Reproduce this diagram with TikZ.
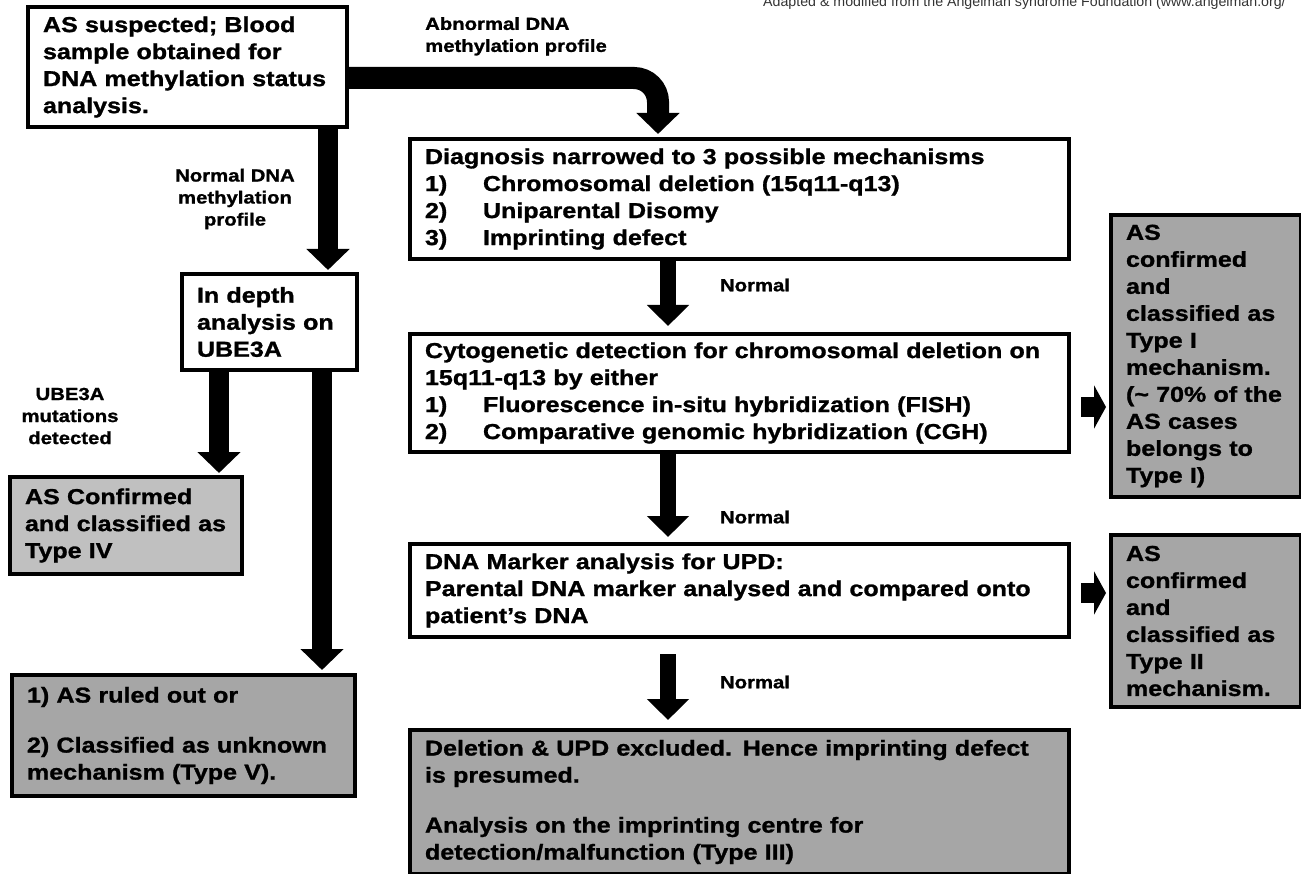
\documentclass[tikz,border=0pt]{standalone}
\usepackage{fontspec}
\usetikzlibrary{arrows.meta,calc}
\newfontfamily\widebf{Liberation Sans}[UprightFont={* Bold}, FakeStretch=1.16, FakeBold=1.2]
\newfontfamily\plainsans{Liberation Sans}
\newcommand\boxfont{\widebf\fontsize{21.6}{27}\selectfont}
\newcommand\lblfont{\widebf\fontsize{17.5}{22}\selectfont}
\newcommand\itm[1]{\makebox[58pt][l]{#1}}
\definecolor{gfill}{HTML}{A6A6A6}
\definecolor{lgfill}{HTML}{C0C0C0}
\tikzset{
  box/.style={draw, line width=4pt, anchor=north west, inner ysep=0pt, inner xsep=15pt, align=left, font=\boxfont},
  gbox/.style={box, fill=gfill},
  lbl/.style={font=\lblfont, inner sep=0pt},
  blk/.style={line width=20pt, -{Triangle[width=42pt,length=21pt]}},
  rblk/.style={line width=16pt, -{Triangle[width=41pt,length=21pt]}},
  smallblk/.style={line width=20pt, -{Triangle[width=43pt,length=12pt]}},
}
\begin{document}
\begin{tikzpicture}[x=1pt,y=-1pt]
\useasboundingbox (0,0) rectangle (1301,874);
% credit
\node[anchor=base west, inner sep=0pt, font=\plainsans\fontsize{14.2}{16}\selectfont, text=black!80] (credit) at (763,6.5) {Adapted \& modified from the Angelman syndrome Foundation (www.angelman.org/};
% boxes
\node[box, minimum width=319pt, minimum height=120pt, text width=289pt] (A) at (26,5)
 {AS suspected; Blood\\ sample obtained for\\ DNA methylation status\\ analysis.};
\node[box, minimum width=659pt, minimum height=120pt, text width=629pt] (diag) at (408,137)
 {Diagnosis narrowed to 3 possible mechanisms\\
  \itm{1)}Chromosomal deletion (15q11-q13)\\
  \itm{2)}Uniparental Disomy\\
  \itm{3)}Imprinting defect};
\node[box, minimum width=659pt, minimum height=118pt, text width=629pt] (cyto) at (408,332)
 {Cytogenetic detection for chromosomal deletion on\\
  15q11-q13 by either\\
  \itm{1)}Fluorescence in-situ hybridization (FISH)\\
  \itm{2)}Comparative genomic hybridization (CGH)};
\node[box, minimum width=659pt, minimum height=93pt, text width=629pt] (upd) at (408,542)
 {DNA Marker analysis for UPD:\\
  Parental DNA marker analysed and compared onto\\
  patient’s DNA};
\node[gbox, minimum width=659pt, minimum height=144pt, text width=629pt] (del) at (408,728)
 {Deletion \& UPD excluded. Hence imprinting defect\\
  is presumed.\\[23pt]
  Analysis on the imprinting centre for\\
  detection/malfunction (Type III)};
\node[box, minimum width=175pt, minimum height=96pt, text width=145pt] (ube) at (180,272)
 {In depth\\ analysis on\\ UBE3A};
\node[box, fill=lgfill, minimum width=232pt, minimum height=97pt, text width=202pt] (t4) at (8,475)
 {AS Confirmed\\ and classified as\\ Type IV};
\node[gbox, minimum width=343pt, minimum height=121pt, text width=313pt] (t5) at (10,673)
 {1) AS ruled out or\\[23pt] 2) Classified as unknown\\ mechanism (Type V).};
\node[gbox, minimum width=190pt, minimum height=282pt, text width=160pt] (t1) at (1109,213)
 {AS\\ confirmed\\ and\\ classified as\\ Type I\\ mechanism.\\ (\textasciitilde{} 70\% of the\\ AS cases\\ belongs to\\ Type I)};
\node[gbox, minimum width=190pt, minimum height=172pt, text width=160pt] (t2) at (1109,533)
 {AS\\ confirmed\\ and\\ classified as\\ Type II\\ mechanism.};
% labels
\node[lbl, align=left, anchor=north west] (labab) at (425,17) {Abnormal DNA\\ methylation profile};
\node[lbl, align=center] (labnorm) at (235,199) {Normal DNA\\ methylation\\ profile};
\node[lbl, align=center] (labube) at (70,416) {UBE3A\\ mutations\\ detected};
\node[lbl] (n1) at (755,285) {Normal};
\node[lbl] (n2) at (755,517) {Normal};
\node[lbl] (n3) at (755,682) {Normal};
% connectors
\draw[blk, line width=22pt, rounded corners=24pt] ($(A.east)+(0,11)$) -| ($(diag.north west)+(250,-3)$);
\draw[blk] ($(A.south west)+(302,0)$) -- ($(ube.north west)+(148,-2)$);
\draw[blk] ($(ube.south west)+(39,0)$) -- ($(t4.north west)+(211,-2)$);
\draw[blk] ($(ube.south west)+(142,0)$) -- ($(t5.north west)+(312,-3)$);
\draw[rblk] ($(diag.south west)+(260,0)$) -- ($(cyto.north west)+(260,-6)$);
\draw[rblk] ($(cyto.south west)+(260,0)$) -- ($(upd.north west)+(260,-5)$);
\coordinate (s3) at ($(upd.south west)+(260,15)$);
\draw[rblk] (s3) -- ($(del.north west)+(260,-8)$);
\coordinate (r1a) at ($(cyto.east)+(10,14)$);
\coordinate (r1b) at ($(cyto.east)+(35,14)$);
\draw[smallblk] (r1a) -- (r1b);
\coordinate (r2a) at ($(upd.east)+(10,2.5)$);
\coordinate (r2b) at ($(upd.east)+(35,2.5)$);
\draw[smallblk] (r2a) -- (r2b);
\end{tikzpicture}
\end{document}
